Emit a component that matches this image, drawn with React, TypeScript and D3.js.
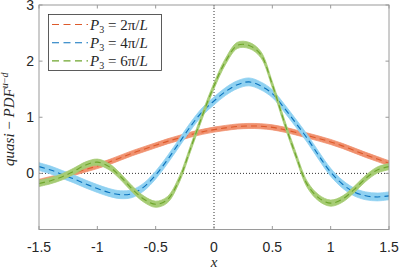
import React from 'react';
import * as d3 from 'd3';

// sample positions along x
const xs = d3.range(-1.5, 1.5001, 0.1).map((v) => Math.round(v * 10) / 10);

// P3 = 2pi/L
const orangeVals = [-0.15, -0.1, -0.05, 0.01, 0.07, 0.13, 0.2, 0.28, 0.36, 0.43, 0.5, 0.57, 0.63, 0.69, 0.74, 0.78, 0.81, 0.835, 0.845, 0.84, 0.82, 0.78, 0.73, 0.675, 0.62, 0.56, 0.49, 0.41, 0.33, 0.255, 0.18];
// P3 = 4pi/L
const blueVals = [0.12, 0.06, -0.02, -0.1, -0.19, -0.27, -0.34, -0.38, -0.36, -0.24, -0.03, 0.24, 0.54, 0.84, 1.1, 1.29, 1.46, 1.58, 1.63, 1.56, 1.42, 1.17, 0.9, 0.62, 0.31, 0.02, -0.19, -0.33, -0.4, -0.42, -0.4];
// P3 = 6pi/L
const greenVals = [-0.18, -0.13, -0.06, 0.04, 0.15, 0.2, 0.12, -0.06, -0.28, -0.46, -0.55, -0.47, -0.12, 0.45, 1.03, 1.56, 2.0, 2.28, 2.28, 2.12, 1.58, 0.93, 0.33, -0.2, -0.44, -0.53, -0.46, -0.29, -0.09, 0.06, 0.12];

const orangeErr = 0.045;
const blueErr = 0.07;
const greenErr = 0.055;

const xTicks = [-1.5, -1, -0.5, 0, 0.5, 1, 1.5];
const yTicks = [0, 1, 2, 3];
const legendLabels = ['2π', '4π', '6π'];

const series = [
  { vals: orangeVals, err: orangeErr, line: '#dd5a2b', band: '#f0916f' },
  { vals: blueVals, err: blueErr, line: '#0a72bd', band: '#8fd1f1' },
  { vals: greenVals, err: greenErr, line: '#6ea52c', band: '#a6cc74' },
];

const W = 399;
const H = 271;
const left = 39;
const right = 389;
const top = 5;
const bottom = 229.5;

const axisCol = '#9a9a9a';
const textCol = '#262626';

export default function App() {
  const x = d3.scaleLinear().domain([-1.5, 1.5]).range([left, right]);
  const y = d3.scaleLinear().domain([-1, 3]).range([bottom, top]);

  const lineGen = (vals: number[]) =>
    d3
      .line<number>()
      .x((_, i) => x(xs[i]))
      .y((d) => y(d))
      .curve(d3.curveCatmullRom)(vals) || '';

  const areaGen = (vals: number[], e: number) =>
    d3
      .area<number>()
      .x((_, i) => x(xs[i]))
      .y0((d) => y(d - e))
      .y1((d) => y(d + e))
      .curve(d3.curveCatmullRom)(vals) || '';

  const tickLen = 3.5;

  return (
    <svg width={W} height={H} style={{ position: 'absolute', left: 0, top: 0, background: '#fff' }}>
      <defs>
        <clipPath id="plotClip">
          <rect x={left} y={top} width={right - left} height={bottom - top} />
        </clipPath>
      </defs>

      {/* zero reference lines */}
      <line x1={x(0)} x2={x(0)} y1={top} y2={bottom} stroke="#333" strokeWidth={1} strokeDasharray="1 2" />
      <line x1={left} x2={right} y1={y(0)} y2={y(0)} stroke="#333" strokeWidth={1} strokeDasharray="1 2" />

      <g clipPath="url(#plotClip)">
        {series.map((s, i) => (
          <g key={i}>
            <path d={areaGen(s.vals, s.err)} fill={s.band} stroke={s.band} strokeWidth={0.8} />
            <path d={lineGen(s.vals)} fill="none" stroke={s.line} strokeWidth={1.1} strokeDasharray="6 4" />
          </g>
        ))}
      </g>

      {/* box */}
      <rect x={left} y={top} width={right - left} height={bottom - top} fill="none" stroke={axisCol} strokeWidth={1} />

      {xTicks.map((t) => (
        <g key={'x' + t}>
          <line x1={x(t)} x2={x(t)} y1={bottom} y2={bottom - tickLen} stroke={axisCol} />
          <line x1={x(t)} x2={x(t)} y1={top} y2={top + tickLen} stroke={axisCol} />
          <text x={x(t)} y={252} textAnchor="middle" fontFamily="Liberation Sans, Arial, sans-serif" fontSize={14} fill={textCol}>
            {t}
          </text>
        </g>
      ))}
      {yTicks.map((t) => (
        <g key={'y' + t}>
          <line x1={left} x2={left + tickLen} y1={y(t)} y2={y(t)} stroke={axisCol} />
          <line x1={right} x2={right - tickLen} y1={y(t)} y2={y(t)} stroke={axisCol} />
          <text x={34} y={y(t) + 5} textAnchor="end" fontFamily="Liberation Sans, Arial, sans-serif" fontSize={14} fill={textCol}>
            {t}
          </text>
        </g>
      ))}

      {/* axis labels */}
      <text x={x(0)} y={267} textAnchor="middle" fontFamily="Liberation Serif, serif" fontStyle="italic" fontSize={15} fill={textCol}>
        x
      </text>
      <text
        transform={`translate(14, ${(top + bottom) / 2 + 2}) rotate(-90)`}
        textAnchor="middle"
        fontFamily="Liberation Serif, serif"
        fontSize={15}
        fill={textCol}
      >
        <tspan fontStyle="italic">quasi</tspan>
        <tspan> − </tspan>
        <tspan fontStyle="italic">PDF</tspan>
        <tspan fontStyle="italic" fontSize={10} dy={-6}>u</tspan>
        <tspan fontSize={10}>−</tspan>
        <tspan fontStyle="italic" fontSize={10}>d</tspan>
      </text>

      {/* legend */}
      <rect x={48.5} y={14.5} width={113} height={56} fill="#fff" stroke="#333" strokeWidth={0.8} />
      {series.map((s, i) => {
        const ly = 24.5 + i * 18.2;
        return (
          <g key={'lg' + i}>
            <line x1={52} x2={88} y1={ly} y2={ly} stroke={s.line} strokeWidth={1.1} strokeDasharray="7 4.5" />
            <text x={90} y={ly + 5} fontFamily="Liberation Serif, serif" fontSize={15} fill={textCol}>
              <tspan fontStyle="italic">P</tspan>
              <tspan fontSize={10} dy={3}>3</tspan>
              <tspan dy={-3}>{' = ' + legendLabels[i] + '/'}</tspan>
              <tspan fontStyle="italic">L</tspan>
            </text>
          </g>
        );
      })}
    </svg>
  );
}
